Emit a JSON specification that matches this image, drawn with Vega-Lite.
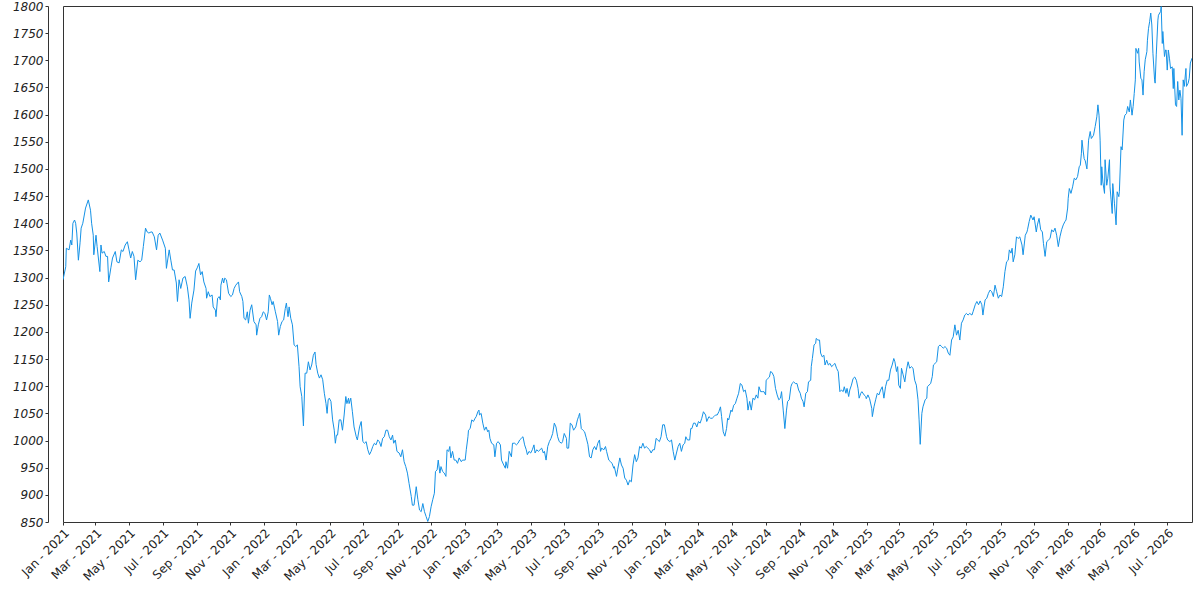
{
  "$schema": "https://vega.github.io/schema/vega-lite/v6.json",
  "width": 1129,
  "height": 516,
  "autosize": "none",
  "padding": {"left": 63, "top": 6, "right": 8, "bottom": 78},
  "background": "white",
  "config": {
    "view": {"stroke": "#333333", "strokeWidth": 1}
  },
  "data": {
    "values": [
      {"d":"2021-01-01","v":1296},{"d":"2021-01-06","v":1320},{"d":"2021-01-07","v":1354},{"d":"2021-01-12","v":1351},{"d":"2021-01-15","v":1369},{"d":"2021-01-17","v":1360},{"d":"2021-01-19","v":1400},{"d":"2021-01-22","v":1406},{"d":"2021-01-24","v":1400},{"d":"2021-01-26","v":1382},{"d":"2021-01-29","v":1332},
      {"d":"2021-02-01","v":1364},{"d":"2021-02-03","v":1391},{"d":"2021-02-06","v":1400},{"d":"2021-02-11","v":1428},{"d":"2021-02-16","v":1443},{"d":"2021-02-20","v":1424},{"d":"2021-02-22","v":1400},{"d":"2021-02-25","v":1378},{"d":"2021-02-26","v":1342},
      {"d":"2021-03-02","v":1378},{"d":"2021-03-04","v":1357},{"d":"2021-03-09","v":1311},{"d":"2021-03-11","v":1360},{"d":"2021-03-13","v":1345},{"d":"2021-03-17","v":1348},{"d":"2021-03-20","v":1339},{"d":"2021-03-23","v":1339},{"d":"2021-03-25","v":1292},{"d":"2021-03-29","v":1318},
      {"d":"2021-04-01","v":1336},{"d":"2021-04-06","v":1348},{"d":"2021-04-09","v":1329},{"d":"2021-04-13","v":1327},{"d":"2021-04-17","v":1351},{"d":"2021-04-20","v":1348},{"d":"2021-04-24","v":1360},{"d":"2021-04-28","v":1366},
      {"d":"2021-05-01","v":1351},{"d":"2021-05-04","v":1336},{"d":"2021-05-07","v":1348},{"d":"2021-05-10","v":1339},{"d":"2021-05-13","v":1296},{"d":"2021-05-17","v":1332},{"d":"2021-05-21","v":1329},{"d":"2021-05-24","v":1332},{"d":"2021-05-27","v":1357},{"d":"2021-05-31","v":1391},
      {"d":"2021-06-03","v":1384},{"d":"2021-06-06","v":1382},{"d":"2021-06-10","v":1384},{"d":"2021-06-12","v":1384},{"d":"2021-06-16","v":1375},{"d":"2021-06-20","v":1351},{"d":"2021-06-23","v":1378},{"d":"2021-06-26","v":1382},
      {"d":"2021-07-01","v":1369},{"d":"2021-07-06","v":1354},{"d":"2021-07-08","v":1317},{"d":"2021-07-13","v":1351},{"d":"2021-07-16","v":1332},{"d":"2021-07-19","v":1314},{"d":"2021-07-22","v":1314},{"d":"2021-07-26","v":1290},{"d":"2021-07-28","v":1256},{"d":"2021-07-31","v":1296},
      {"d":"2021-08-03","v":1280},{"d":"2021-08-07","v":1299},{"d":"2021-08-11","v":1302},{"d":"2021-08-15","v":1283},{"d":"2021-08-18","v":1259},{"d":"2021-08-20","v":1225},{"d":"2021-08-23","v":1253},{"d":"2021-08-27","v":1277},{"d":"2021-08-30","v":1312},
      {"d":"2021-09-02","v":1318},{"d":"2021-09-05","v":1326},{"d":"2021-09-08","v":1305},{"d":"2021-09-11","v":1311},{"d":"2021-09-14","v":1292},{"d":"2021-09-18","v":1280},{"d":"2021-09-19","v":1262},{"d":"2021-09-22","v":1274},{"d":"2021-09-25","v":1265},{"d":"2021-09-29","v":1268},
      {"d":"2021-10-01","v":1246},{"d":"2021-10-05","v":1240},{"d":"2021-10-06","v":1228},{"d":"2021-10-09","v":1262},{"d":"2021-10-12","v":1265},{"d":"2021-10-14","v":1259},{"d":"2021-10-15","v":1286},{"d":"2021-10-18","v":1299},{"d":"2021-10-20","v":1290},{"d":"2021-10-22","v":1299},{"d":"2021-10-25","v":1296},{"d":"2021-10-29","v":1271},
      {"d":"2021-11-02","v":1265},{"d":"2021-11-05","v":1268},{"d":"2021-11-08","v":1280},{"d":"2021-11-11","v":1286},{"d":"2021-11-16","v":1292},{"d":"2021-11-18","v":1274},{"d":"2021-11-22","v":1265},{"d":"2021-11-24","v":1256},{"d":"2021-11-26","v":1225},{"d":"2021-11-29","v":1222},
      {"d":"2021-12-02","v":1237},{"d":"2021-12-04","v":1216},{"d":"2021-12-07","v":1240},{"d":"2021-12-10","v":1250},{"d":"2021-12-14","v":1219},{"d":"2021-12-18","v":1213},{"d":"2021-12-19","v":1194},{"d":"2021-12-22","v":1213},{"d":"2021-12-25","v":1225},{"d":"2021-12-28","v":1228},{"d":"2021-12-31","v":1237},
      {"d":"2022-01-03","v":1234},{"d":"2022-01-06","v":1222},{"d":"2022-01-09","v":1237},{"d":"2022-01-11","v":1268},{"d":"2022-01-13","v":1262},{"d":"2022-01-16","v":1250},{"d":"2022-01-18","v":1256},{"d":"2022-01-22","v":1237},{"d":"2022-01-26","v":1219},{"d":"2022-01-28","v":1194},{"d":"2022-01-31","v":1210},
      {"d":"2022-02-03","v":1219},{"d":"2022-02-06","v":1222},{"d":"2022-02-09","v":1243},{"d":"2022-02-11","v":1253},{"d":"2022-02-14","v":1228},{"d":"2022-02-16","v":1246},{"d":"2022-02-19","v":1225},{"d":"2022-02-22","v":1213},{"d":"2022-02-25","v":1176},{"d":"2022-02-28","v":1173},
      {"d":"2022-03-03","v":1176},{"d":"2022-03-06","v":1136},{"d":"2022-03-08","v":1099},{"d":"2022-03-11","v":1081},{"d":"2022-03-14","v":1027},{"d":"2022-03-17","v":1124},{"d":"2022-03-20","v":1124},{"d":"2022-03-23","v":1145},{"d":"2022-03-26","v":1130},{"d":"2022-03-29","v":1139},
      {"d":"2022-04-01","v":1157},{"d":"2022-04-04","v":1163},{"d":"2022-04-06","v":1140},{"d":"2022-04-09","v":1124},{"d":"2022-04-12","v":1115},{"d":"2022-04-15","v":1121},{"d":"2022-04-18","v":1112},{"d":"2022-04-21","v":1087},{"d":"2022-04-24","v":1068},{"d":"2022-04-26","v":1050},{"d":"2022-04-28","v":1075},{"d":"2022-04-30","v":1078},
      {"d":"2022-05-03","v":1072},{"d":"2022-05-06","v":1038},{"d":"2022-05-09","v":1019},{"d":"2022-05-11","v":995},{"d":"2022-05-13","v":1010},{"d":"2022-05-15","v":1010},{"d":"2022-05-18","v":1038},{"d":"2022-05-21","v":1038},{"d":"2022-05-24","v":1019},{"d":"2022-05-27","v":1047},{"d":"2022-05-30","v":1081},
      {"d":"2022-06-01","v":1068},{"d":"2022-06-04","v":1078},{"d":"2022-06-05","v":1068},{"d":"2022-06-08","v":1078},{"d":"2022-06-11","v":1053},{"d":"2022-06-14","v":1025},{"d":"2022-06-18","v":1007},{"d":"2022-06-20","v":1001},{"d":"2022-06-24","v":1025},{"d":"2022-06-27","v":1035},{"d":"2022-06-30","v":998},
      {"d":"2022-07-03","v":995},{"d":"2022-07-06","v":998},{"d":"2022-07-09","v":983},{"d":"2022-07-12","v":974},{"d":"2022-07-15","v":980},{"d":"2022-07-18","v":989},{"d":"2022-07-21","v":995},{"d":"2022-07-24","v":992},{"d":"2022-07-27","v":1001},{"d":"2022-07-30","v":998},
      {"d":"2022-08-02","v":989},{"d":"2022-08-05","v":1004},{"d":"2022-08-08","v":1007},{"d":"2022-08-11","v":1019},{"d":"2022-08-14","v":1019},{"d":"2022-08-17","v":1007},{"d":"2022-08-20","v":1001},{"d":"2022-08-23","v":1010},{"d":"2022-08-25","v":995},{"d":"2022-08-28","v":1001},{"d":"2022-08-31","v":980},
      {"d":"2022-09-04","v":977},{"d":"2022-09-07","v":970},{"d":"2022-09-10","v":983},{"d":"2022-09-13","v":961},{"d":"2022-09-16","v":952},{"d":"2022-09-19","v":940},{"d":"2022-09-22","v":921},{"d":"2022-09-26","v":897},{"d":"2022-09-28","v":881},
      {"d":"2022-10-01","v":881},{"d":"2022-10-05","v":915},{"d":"2022-10-08","v":891},{"d":"2022-10-11","v":872},{"d":"2022-10-14","v":869},{"d":"2022-10-17","v":884},{"d":"2022-10-20","v":869},{"d":"2022-10-23","v":860},{"d":"2022-10-26","v":851},{"d":"2022-10-29","v":860},
      {"d":"2022-11-01","v":878},{"d":"2022-11-04","v":891},{"d":"2022-11-07","v":903},{"d":"2022-11-09","v":943},{"d":"2022-11-12","v":946},{"d":"2022-11-14","v":964},{"d":"2022-11-17","v":940},{"d":"2022-11-19","v":952},{"d":"2022-11-22","v":943},{"d":"2022-11-25","v":940},{"d":"2022-11-28","v":934},{"d":"2022-11-30","v":983},
      {"d":"2022-12-03","v":980},{"d":"2022-12-05","v":989},{"d":"2022-12-07","v":968},{"d":"2022-12-10","v":980},{"d":"2022-12-13","v":964},{"d":"2022-12-16","v":964},{"d":"2022-12-19","v":958},{"d":"2022-12-22","v":968},{"d":"2022-12-26","v":961},{"d":"2022-12-28","v":964},
      {"d":"2023-01-02","v":964},{"d":"2023-01-04","v":983},{"d":"2023-01-07","v":1007},{"d":"2023-01-08","v":1019},{"d":"2023-01-11","v":1022},{"d":"2023-01-14","v":1038},{"d":"2023-01-17","v":1035},{"d":"2023-01-20","v":1041},{"d":"2023-01-22","v":1044},{"d":"2023-01-25","v":1053},{"d":"2023-01-27","v":1056},{"d":"2023-01-28","v":1047},{"d":"2023-01-31","v":1050},
      {"d":"2023-02-03","v":1032},{"d":"2023-02-06","v":1019},{"d":"2023-02-09","v":1025},{"d":"2023-02-12","v":1016},{"d":"2023-02-14","v":1019},{"d":"2023-02-16","v":1004},{"d":"2023-02-19","v":995},{"d":"2023-02-23","v":992},{"d":"2023-02-25","v":970},{"d":"2023-02-28","v":995},
      {"d":"2023-03-03","v":998},{"d":"2023-03-07","v":992},{"d":"2023-03-09","v":964},{"d":"2023-03-13","v":955},{"d":"2023-03-16","v":949},{"d":"2023-03-17","v":961},{"d":"2023-03-20","v":949},{"d":"2023-03-23","v":980},{"d":"2023-03-27","v":970},{"d":"2023-03-29","v":995},
      {"d":"2023-04-02","v":995},{"d":"2023-04-05","v":992},{"d":"2023-04-08","v":995},{"d":"2023-04-11","v":1001},{"d":"2023-04-14","v":1004},{"d":"2023-04-17","v":1007},{"d":"2023-04-20","v":992},{"d":"2023-04-23","v":983},{"d":"2023-04-25","v":974},{"d":"2023-04-28","v":980},
      {"d":"2023-05-01","v":977},{"d":"2023-05-04","v":983},{"d":"2023-05-07","v":992},{"d":"2023-05-09","v":977},{"d":"2023-05-12","v":983},{"d":"2023-05-15","v":980},{"d":"2023-05-18","v":983},{"d":"2023-05-21","v":986},{"d":"2023-05-24","v":977},{"d":"2023-05-26","v":980},{"d":"2023-05-29","v":964},
      {"d":"2023-06-01","v":989},{"d":"2023-06-04","v":998},{"d":"2023-06-07","v":1004},{"d":"2023-06-10","v":1013},{"d":"2023-06-13","v":1032},{"d":"2023-06-16","v":1025},{"d":"2023-06-19","v":1007},{"d":"2023-06-22","v":998},{"d":"2023-06-26","v":995},{"d":"2023-06-28","v":998},
      {"d":"2023-07-01","v":1013},{"d":"2023-07-05","v":1004},{"d":"2023-07-06","v":986},{"d":"2023-07-09","v":986},{"d":"2023-07-12","v":1032},{"d":"2023-07-15","v":1029},{"d":"2023-07-18","v":1019},{"d":"2023-07-22","v":1025},{"d":"2023-07-25","v":1038},{"d":"2023-07-27","v":1044},{"d":"2023-07-29","v":1050},
      {"d":"2023-08-01","v":1022},{"d":"2023-08-04","v":1019},{"d":"2023-08-07","v":1016},{"d":"2023-08-10","v":1005},{"d":"2023-08-13","v":993},{"d":"2023-08-16","v":970},{"d":"2023-08-19","v":968},{"d":"2023-08-22","v":983},{"d":"2023-08-25","v":989},{"d":"2023-08-28","v":983},{"d":"2023-08-31","v":995},
      {"d":"2023-09-03","v":1001},{"d":"2023-09-05","v":980},{"d":"2023-09-07","v":986},{"d":"2023-09-11","v":983},{"d":"2023-09-14","v":989},{"d":"2023-09-16","v":980},{"d":"2023-09-20","v":964},{"d":"2023-09-23","v":961},{"d":"2023-09-26","v":958},{"d":"2023-09-29","v":949},{"d":"2023-09-30","v":952},
      {"d":"2023-10-04","v":934},{"d":"2023-10-06","v":946},{"d":"2023-10-10","v":968},{"d":"2023-10-13","v":955},{"d":"2023-10-16","v":949},{"d":"2023-10-19","v":931},{"d":"2023-10-22","v":927},{"d":"2023-10-25","v":918},{"d":"2023-10-28","v":927},{"d":"2023-10-31","v":924},
      {"d":"2023-11-03","v":955},{"d":"2023-11-06","v":974},{"d":"2023-11-09","v":961},{"d":"2023-11-12","v":968},{"d":"2023-11-15","v":989},{"d":"2023-11-18","v":986},{"d":"2023-11-21","v":995},{"d":"2023-11-24","v":986},{"d":"2023-11-27","v":989},{"d":"2023-11-30","v":986},
      {"d":"2023-12-03","v":983},{"d":"2023-12-06","v":977},{"d":"2023-12-09","v":983},{"d":"2023-12-12","v":983},{"d":"2023-12-15","v":1004},{"d":"2023-12-18","v":1001},{"d":"2023-12-21","v":998},{"d":"2023-12-24","v":1007},{"d":"2023-12-27","v":1029},{"d":"2023-12-30","v":1029},
      {"d":"2024-01-03","v":1007},{"d":"2024-01-05","v":1001},{"d":"2024-01-09","v":998},{"d":"2024-01-12","v":1001},{"d":"2024-01-15","v":980},{"d":"2024-01-18","v":964},{"d":"2024-01-21","v":977},{"d":"2024-01-24","v":989},{"d":"2024-01-27","v":995},{"d":"2024-01-30","v":980},
      {"d":"2024-02-02","v":992},{"d":"2024-02-05","v":995},{"d":"2024-02-07","v":1007},{"d":"2024-02-10","v":1001},{"d":"2024-02-14","v":1001},{"d":"2024-02-16","v":1022},{"d":"2024-02-18","v":1022},{"d":"2024-02-21","v":1032},{"d":"2024-02-24","v":1032},{"d":"2024-02-27","v":1025},
      {"d":"2024-03-01","v":1035},{"d":"2024-03-04","v":1032},{"d":"2024-03-07","v":1041},{"d":"2024-03-10","v":1053},{"d":"2024-03-14","v":1047},{"d":"2024-03-16","v":1035},{"d":"2024-03-20","v":1044},{"d":"2024-03-23","v":1041},{"d":"2024-03-26","v":1041},{"d":"2024-03-29","v":1044},
      {"d":"2024-04-01","v":1047},{"d":"2024-04-04","v":1047},{"d":"2024-04-07","v":1053},{"d":"2024-04-10","v":1062},{"d":"2024-04-12","v":1044},{"d":"2024-04-15","v":1016},{"d":"2024-04-18","v":1008},{"d":"2024-04-21","v":1022},{"d":"2024-04-23","v":1041},{"d":"2024-04-25","v":1038},{"d":"2024-04-29","v":1056},
      {"d":"2024-05-01","v":1053},{"d":"2024-05-04","v":1065},{"d":"2024-05-07","v":1068},{"d":"2024-05-10","v":1078},{"d":"2024-05-13","v":1087},{"d":"2024-05-16","v":1105},{"d":"2024-05-19","v":1102},{"d":"2024-05-22","v":1090},{"d":"2024-05-25","v":1093},{"d":"2024-05-28","v":1078},{"d":"2024-05-30","v":1056},
      {"d":"2024-06-02","v":1072},{"d":"2024-06-05","v":1056},{"d":"2024-06-08","v":1078},{"d":"2024-06-11","v":1075},{"d":"2024-06-14","v":1084},{"d":"2024-06-17","v":1078},{"d":"2024-06-19","v":1099},{"d":"2024-06-22","v":1090},{"d":"2024-06-25","v":1090},{"d":"2024-06-28","v":1090},
      {"d":"2024-07-01","v":1084},{"d":"2024-07-02","v":1111},{"d":"2024-07-05","v":1114},{"d":"2024-07-08","v":1117},{"d":"2024-07-10","v":1127},{"d":"2024-07-13","v":1125},{"d":"2024-07-16","v":1118},{"d":"2024-07-19","v":1096},{"d":"2024-07-22","v":1084},{"d":"2024-07-25","v":1075},{"d":"2024-07-28","v":1078},{"d":"2024-07-30","v":1090},
      {"d":"2024-08-02","v":1056},{"d":"2024-08-05","v":1022},{"d":"2024-08-08","v":1056},{"d":"2024-08-10","v":1072},{"d":"2024-08-13","v":1075},{"d":"2024-08-16","v":1099},{"d":"2024-08-18","v":1105},{"d":"2024-08-21","v":1108},{"d":"2024-08-24","v":1105},{"d":"2024-08-27","v":1105},{"d":"2024-08-30","v":1093},
      {"d":"2024-09-02","v":1087},{"d":"2024-09-04","v":1078},{"d":"2024-09-07","v":1072},{"d":"2024-09-09","v":1062},{"d":"2024-09-12","v":1087},{"d":"2024-09-15","v":1090},{"d":"2024-09-17","v":1108},{"d":"2024-09-21","v":1111},{"d":"2024-09-22","v":1136},{"d":"2024-09-24","v":1151},{"d":"2024-09-27","v":1176},{"d":"2024-09-30","v":1179},
      {"d":"2024-10-01","v":1188},{"d":"2024-10-04","v":1185},{"d":"2024-10-07","v":1185},{"d":"2024-10-09","v":1161},{"d":"2024-10-12","v":1154},{"d":"2024-10-15","v":1157},{"d":"2024-10-17","v":1139},{"d":"2024-10-20","v":1148},{"d":"2024-10-23","v":1139},{"d":"2024-10-26","v":1142},{"d":"2024-10-29","v":1136},
      {"d":"2024-11-01","v":1139},{"d":"2024-11-04","v":1142},{"d":"2024-11-07","v":1133},{"d":"2024-11-10","v":1127},{"d":"2024-11-13","v":1090},{"d":"2024-11-16","v":1093},{"d":"2024-11-19","v":1090},{"d":"2024-11-21","v":1099},{"d":"2024-11-24","v":1087},{"d":"2024-11-26","v":1096},{"d":"2024-11-29","v":1081},
      {"d":"2024-12-01","v":1093},{"d":"2024-12-04","v":1102},{"d":"2024-12-07","v":1114},{"d":"2024-12-10","v":1117},{"d":"2024-12-13","v":1111},{"d":"2024-12-16","v":1096},{"d":"2024-12-18","v":1078},{"d":"2024-12-21","v":1087},{"d":"2024-12-23","v":1090},{"d":"2024-12-27","v":1084},{"d":"2024-12-30","v":1081},{"d":"2024-12-31","v":1077},
      {"d":"2025-01-03","v":1084},{"d":"2025-01-06","v":1077},{"d":"2025-01-10","v":1059},{"d":"2025-01-11","v":1044},{"d":"2025-01-14","v":1062},{"d":"2025-01-17","v":1075},{"d":"2025-01-20","v":1087},{"d":"2025-01-23","v":1084},{"d":"2025-01-26","v":1093},{"d":"2025-01-29","v":1099},
      {"d":"2025-02-01","v":1078},{"d":"2025-02-04","v":1099},{"d":"2025-02-07","v":1111},{"d":"2025-02-10","v":1111},{"d":"2025-02-13","v":1130},{"d":"2025-02-16","v":1139},{"d":"2025-02-19","v":1151},{"d":"2025-02-21","v":1145},{"d":"2025-02-24","v":1127},{"d":"2025-02-26","v":1136},{"d":"2025-02-28","v":1102},
      {"d":"2025-03-03","v":1096},{"d":"2025-03-05","v":1133},{"d":"2025-03-08","v":1121},{"d":"2025-03-11","v":1108},{"d":"2025-03-14","v":1130},{"d":"2025-03-17","v":1145},{"d":"2025-03-20","v":1133},{"d":"2025-03-23","v":1136},{"d":"2025-03-26","v":1133},{"d":"2025-03-29","v":1111},
      {"d":"2025-04-01","v":1102},{"d":"2025-04-04","v":1075},{"d":"2025-04-06","v":1038},{"d":"2025-04-08","v":993},{"d":"2025-04-11","v":1050},{"d":"2025-04-13","v":1062},{"d":"2025-04-17","v":1075},{"d":"2025-04-20","v":1078},{"d":"2025-04-21","v":1099},{"d":"2025-04-24","v":1102},{"d":"2025-04-27","v":1105},{"d":"2025-04-30","v":1118},
      {"d":"2025-05-02","v":1139},{"d":"2025-05-05","v":1142},{"d":"2025-05-08","v":1145},{"d":"2025-05-11","v":1173},{"d":"2025-05-14","v":1176},{"d":"2025-05-17","v":1173},{"d":"2025-05-20","v":1170},{"d":"2025-05-23","v":1173},{"d":"2025-05-26","v":1170},{"d":"2025-05-29","v":1161},
      {"d":"2025-06-01","v":1157},{"d":"2025-06-04","v":1185},{"d":"2025-06-07","v":1191},{"d":"2025-06-10","v":1213},{"d":"2025-06-13","v":1194},{"d":"2025-06-16","v":1203},{"d":"2025-06-19","v":1185},{"d":"2025-06-22","v":1216},{"d":"2025-06-25","v":1222},{"d":"2025-06-28","v":1231},
      {"d":"2025-07-01","v":1234},{"d":"2025-07-04","v":1231},{"d":"2025-07-07","v":1234},{"d":"2025-07-11","v":1231},{"d":"2025-07-13","v":1237},{"d":"2025-07-17","v":1250},{"d":"2025-07-20","v":1256},{"d":"2025-07-23","v":1250},{"d":"2025-07-26","v":1257},{"d":"2025-07-29","v":1250},{"d":"2025-07-31","v":1231},
      {"d":"2025-08-02","v":1246},{"d":"2025-08-04","v":1259},{"d":"2025-08-07","v":1262},{"d":"2025-08-10","v":1271},{"d":"2025-08-13","v":1277},{"d":"2025-08-16","v":1274},{"d":"2025-08-19","v":1265},{"d":"2025-08-22","v":1286},{"d":"2025-08-25","v":1274},{"d":"2025-08-28","v":1262},{"d":"2025-08-31","v":1268},
      {"d":"2025-09-03","v":1265},{"d":"2025-09-06","v":1283},{"d":"2025-09-09","v":1311},{"d":"2025-09-12","v":1329},{"d":"2025-09-15","v":1332},{"d":"2025-09-17","v":1351},{"d":"2025-09-20","v":1345},{"d":"2025-09-22","v":1354},{"d":"2025-09-24","v":1329},{"d":"2025-09-27","v":1342},{"d":"2025-09-30","v":1375},
      {"d":"2025-10-03","v":1372},{"d":"2025-10-06","v":1375},{"d":"2025-10-10","v":1360},{"d":"2025-10-12","v":1342},{"d":"2025-10-16","v":1378},{"d":"2025-10-19","v":1384},{"d":"2025-10-20","v":1388},{"d":"2025-10-23","v":1403},{"d":"2025-10-26","v":1415},{"d":"2025-10-30","v":1406},
      {"d":"2025-11-01","v":1412},{"d":"2025-11-05","v":1384},{"d":"2025-11-07","v":1397},{"d":"2025-11-10","v":1409},{"d":"2025-11-13","v":1388},{"d":"2025-11-16","v":1384},{"d":"2025-11-18","v":1363},{"d":"2025-11-21","v":1339},{"d":"2025-11-24","v":1366},{"d":"2025-11-27","v":1369},{"d":"2025-11-30","v":1372},
      {"d":"2025-12-03","v":1388},{"d":"2025-12-06","v":1384},{"d":"2025-12-09","v":1391},{"d":"2025-12-12","v":1378},{"d":"2025-12-15","v":1357},{"d":"2025-12-18","v":1375},{"d":"2025-12-21","v":1388},{"d":"2025-12-24","v":1397},{"d":"2025-12-27","v":1403},{"d":"2025-12-29","v":1406},
      {"d":"2026-01-01","v":1428},{"d":"2026-01-02","v":1446},{"d":"2026-01-04","v":1464},{"d":"2026-01-07","v":1455},{"d":"2026-01-10","v":1467},{"d":"2026-01-13","v":1483},{"d":"2026-01-16","v":1480},{"d":"2026-01-19","v":1486},{"d":"2026-01-22","v":1504},{"d":"2026-01-24","v":1507},{"d":"2026-01-26","v":1529},{"d":"2026-01-27","v":1553},{"d":"2026-01-29","v":1535},{"d":"2026-01-31","v":1519},
      {"d":"2026-02-02","v":1515},{"d":"2026-02-05","v":1500},{"d":"2026-02-08","v":1553},{"d":"2026-02-11","v":1569},{"d":"2026-02-13","v":1556},{"d":"2026-02-17","v":1562},{"d":"2026-02-20","v":1578},{"d":"2026-02-23","v":1596},{"d":"2026-02-25","v":1618},{"d":"2026-02-27","v":1599},
      {"d":"2026-03-01","v":1553},{"d":"2026-03-03","v":1470},{"d":"2026-03-04","v":1504},{"d":"2026-03-06","v":1476},{"d":"2026-03-09","v":1455},{"d":"2026-03-10","v":1517},{"d":"2026-03-13","v":1470},{"d":"2026-03-15","v":1483},{"d":"2026-03-18","v":1517},{"d":"2026-03-19","v":1467},{"d":"2026-03-21","v":1443},{"d":"2026-03-23","v":1418},{"d":"2026-03-24","v":1473},{"d":"2026-03-27","v":1437},{"d":"2026-03-30","v":1397},
      {"d":"2026-04-01","v":1458},{"d":"2026-04-04","v":1449},{"d":"2026-04-05","v":1458},{"d":"2026-04-08","v":1541},{"d":"2026-04-10","v":1535},{"d":"2026-04-13","v":1590},{"d":"2026-04-15","v":1599},{"d":"2026-04-18","v":1602},{"d":"2026-04-20","v":1615},{"d":"2026-04-23","v":1605},{"d":"2026-04-25","v":1627},{"d":"2026-04-28","v":1599},{"d":"2026-04-30","v":1615},
      {"d":"2026-05-02","v":1639},{"d":"2026-05-04","v":1664},{"d":"2026-05-05","v":1722},{"d":"2026-05-08","v":1713},{"d":"2026-05-10","v":1722},{"d":"2026-05-11","v":1697},{"d":"2026-05-14","v":1667},{"d":"2026-05-16","v":1664},{"d":"2026-05-18","v":1636},{"d":"2026-05-20","v":1679},{"d":"2026-05-22","v":1701},{"d":"2026-05-25","v":1716},{"d":"2026-05-26","v":1737},{"d":"2026-05-28","v":1759},{"d":"2026-05-30","v":1771},
      {"d":"2026-06-01","v":1787},{"d":"2026-06-03","v":1765},{"d":"2026-06-05","v":1713},{"d":"2026-06-08","v":1664},{"d":"2026-06-09","v":1658},{"d":"2026-06-11","v":1710},{"d":"2026-06-14","v":1774},{"d":"2026-06-15","v":1783},{"d":"2026-06-19","v":1790},{"d":"2026-06-20","v":1799},{"d":"2026-06-22","v":1731},{"d":"2026-06-23","v":1753},{"d":"2026-06-26","v":1707},{"d":"2026-06-28","v":1719},{"d":"2026-06-29","v":1719},
      {"d":"2026-07-01","v":1682},{"d":"2026-07-03","v":1719},{"d":"2026-07-05","v":1704},{"d":"2026-07-07","v":1685},{"d":"2026-07-10","v":1688},{"d":"2026-07-12","v":1648},{"d":"2026-07-13","v":1685},{"d":"2026-07-16","v":1618},{"d":"2026-07-18","v":1615},{"d":"2026-07-20","v":1661},{"d":"2026-07-22","v":1627},{"d":"2026-07-24","v":1645},{"d":"2026-07-26","v":1630},{"d":"2026-07-28","v":1562},{"d":"2026-07-30","v":1664},
      {"d":"2026-08-01","v":1652},{"d":"2026-08-04","v":1685},{"d":"2026-08-05","v":1652},{"d":"2026-08-08","v":1658},{"d":"2026-08-10","v":1667},{"d":"2026-08-12","v":1695},{"d":"2026-08-15","v":1704}
    ]
  },
  "mark": {"type": "line", "color": "#1592e6", "strokeWidth": 1, "clip": true},
  "encoding": {
    "x": {
      "field": "d",
      "type": "temporal",
      "scale": {
        "type": "utc",
        "domain": [
          {"year": 2021, "month": 1, "date": 1, "utc": true},
          {"year": 2026, "month": 8, "date": 15, "utc": true}
        ]
      },
      "axis": {
        "title": null,
        "grid": false,
        "format": "%b - %Y",
        "tickCount": {"interval": "month", "step": 2},
        "labelAngle": -45,
        "labelAlign": "right",
        "labelBaseline": "top",
        "labelPadding": 2,
        "labelOverlap": false,
        "labelFlush": false,
        "labelFont": "DejaVu Sans",
        "labelFontSize": 12,
        "labelColor": "#222222",
        "tickSize": 3,
        "tickColor": "#333333",
        "domain": false
      }
    },
    "y": {
      "field": "v",
      "type": "quantitative",
      "scale": {"domain": [850, 1800], "nice": false, "zero": false},
      "axis": {
        "title": null,
        "grid": false,
        "format": "d",
        "values": [850, 900, 950, 1000, 1050, 1100, 1150, 1200, 1250, 1300, 1350, 1400, 1450, 1500, 1550, 1600, 1650, 1700, 1750, 1800],
        "offset": 15,
        "tickSize": 3,
        "tickColor": "#333333",
        "labelPadding": 2,
        "labelFont": "DejaVu Sans",
        "labelFontSize": 12,
        "labelFontStyle": "italic",
        "labelColor": "#222222",
        "labelFlush": false,
        "domain": true,
        "domainColor": "#333333"
      }
    }
  }
}
